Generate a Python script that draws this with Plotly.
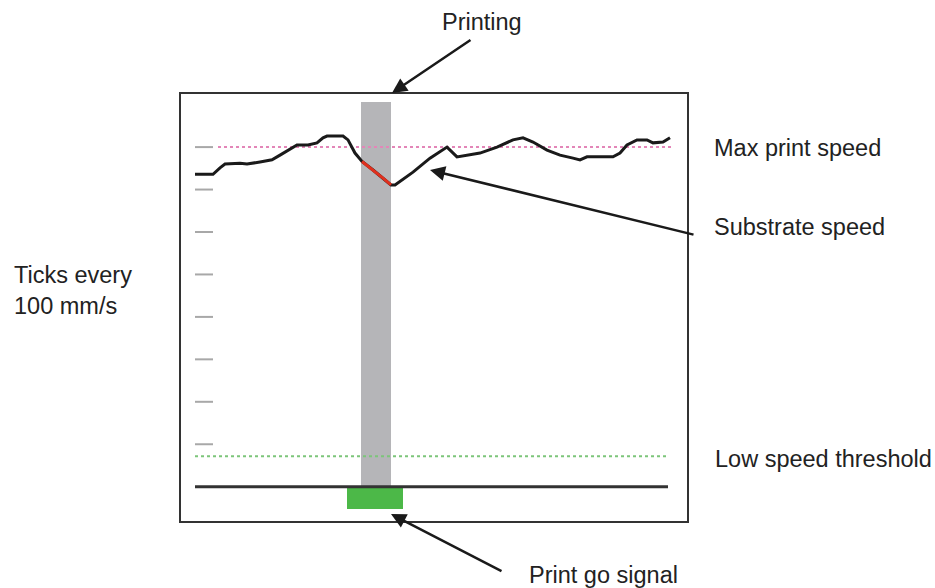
import plotly.graph_objects as go

# substrate speed trace (time units, speed in mm/s)
time = [14, 32, 39, 44, 59, 66, 79, 91, 99, 116, 127, 136, 142, 146, 162, 167, 174, 181,
        192, 202, 210, 214, 232, 249, 266, 276, 286, 299, 316, 332, 342, 352, 366, 379,
        392, 399, 406, 432, 439, 446, 456, 466, 472, 482, 489]
speed = [736, 736, 751, 760, 762, 760, 765, 770, 781, 805, 805, 810, 822, 826, 826, 817, 786, 766,
         746, 727, 711, 711, 741, 774, 800, 777, 781, 786, 800, 817, 822, 812, 793, 781,
         774, 770, 777, 777, 786, 805, 817, 817, 810, 812, 822]
print_start = 181
print_end = 211

max_print_speed = 800
low_speed_threshold = 72
tick_values = [100, 200, 300, 400, 500, 600, 700, 800]
tick_start, tick_end = 14, 32
line_start, line_end = 14, 487

print_window = [180, 210]      # grey "printing" bar, time
print_window_top = 907
go_signal = [166, 222]         # green print go pulse, time
go_signal_low = -53

x_range = [0, 506]
y_range = [-80.8, 925.1]

font = 'Liberation Sans, Arial, sans-serif'

fig = go.Figure()

# tick marks every 100 mm/s
tx, ty = [], []
for v in tick_values:
    tx += [tick_start, tick_end, None]
    ty += [v, v, None]
fig.add_trace(go.Scatter(x=tx, y=ty, mode='lines', line=dict(color='#a8a8a8', width=2), hoverinfo='skip'))

fig.add_trace(go.Scatter(x=[tick_end + 5, line_end + 4], y=[max_print_speed] * 2, mode='lines',
                         line=dict(color='#e386b8', width=2, dash='dot')))
fig.add_trace(go.Scatter(x=[line_start, line_end], y=[low_speed_threshold] * 2, mode='lines',
                         line=dict(color='#7cc57a', width=2, dash='dot')))

# printing window and go signal
fig.add_trace(go.Bar(x=[sum(print_window) / 2], y=[print_window_top], base=[0],
                     width=[print_window[1] - print_window[0]], marker=dict(color='#b5b5b8', line=dict(width=0))))
fig.add_trace(go.Bar(x=[sum(go_signal) / 2], y=[-go_signal_low], base=[go_signal_low],
                     width=[go_signal[1] - go_signal[0]], marker=dict(color='#4cb848', line=dict(width=0))))

fig.add_trace(go.Scatter(x=[line_start, line_end], y=[0, 0], mode='lines',
                         line=dict(color='#333333', width=3)))

# substrate speed, red while printing
fig.add_trace(go.Scatter(x=time, y=speed, mode='lines', line=dict(color='#1a1a1a', width=3)))
red_t = [t for t in time if print_start <= t <= print_end]
red_v = [v for t, v in zip(time, speed) if print_start <= t <= print_end]
fig.add_trace(go.Scatter(x=red_t, y=red_v, mode='lines', line=dict(color='#e0301e', width=3)))

L, T, W, H = 181, 94, 506, 427


def paper(px, py):
    return (px - L) / W, (T + H - py) / H


annotations = []
for text, px, py, xanchor in [('Printing', 482, 22, 'center'),
                              ('Max print speed', 712, 148, 'left'),
                              ('Substrate speed', 712, 227, 'left'),
                              ('Ticks every<br>100 mm/s', 12, 290, 'left'),
                              ('Low speed threshold', 713, 459, 'left'),
                              ('Print go signal', 527, 575, 'left')]:
    x, y = paper(px, py)
    annotations.append(dict(text=text, x=x, y=y, xref='paper', yref='paper', xanchor=xanchor,
                            yanchor='middle', align='left', showarrow=False,
                            font=dict(family=font, size=23.5, color='#222222')))

for hx, hy, tx_, ty_ in [(392, 93, 472, 39), (430, 170, 695, 235), (391, 514, 503, 572)]:
    x, y = paper(hx, hy)
    annotations.append(dict(text='', x=x, y=y, xref='paper', yref='paper', ax=tx_ - hx, ay=ty_ - hy,
                            showarrow=True, arrowhead=2, arrowsize=1.2, arrowwidth=2.5,
                            arrowcolor='#1a1a1a', standoff=0))

fig.update_layout(width=935, height=588, showlegend=False, plot_bgcolor='white', paper_bgcolor='white',
                  margin=dict(l=L, r=935 - L - W, t=T, b=588 - T - H), annotations=annotations,
                  bargap=0, hovermode=False)
fig.update_xaxes(range=x_range, showgrid=False, zeroline=False, showticklabels=False, ticks='',
                 showline=True, mirror=True, linecolor='#333333', linewidth=2)
fig.update_yaxes(range=y_range, showgrid=False, zeroline=False, showticklabels=False, ticks='',
                 showline=True, mirror=True, linecolor='#333333', linewidth=2)

# page body has an 8px default margin; drop it so the figure sits at the window origin
fig.write_html('out.html', config={'displayModeBar': False},
               post_script="document.body.style.margin='0';")
